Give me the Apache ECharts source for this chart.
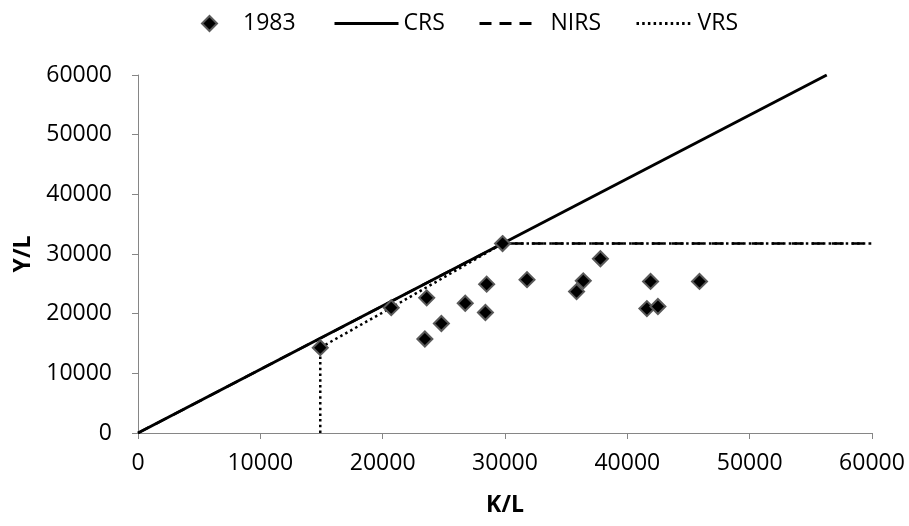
<!DOCTYPE html>
<html><head><meta charset="utf-8">
<script src="https://cdn.jsdelivr.net/npm/echarts@6/dist/echarts.min.js"></script>
<style>html,body{margin:0;padding:0;background:#fff}#c{width:909px;height:526px}</style>
</head><body><div id="c"></div>
<script>
// Observed 1983 points
const klValues = [14900, 20700, 23600, 23450, 24800, 26750, 28500, 28400, 29800, 31800, 35850, 36400, 37800, 41900, 41600, 42500, 45900];
const ylValues = [14300, 21000, 22650, 15750, 18350, 21750, 24950, 20200, 31750, 25700, 23700, 25500, 29200, 25400, 20850, 21200, 25400];
// Frontier vertices
const crsX = [0, 56300];
const crsY = [0, 60000];
const nirsX = [0, 29800, 60000];
const nirsY = [0, 31750, 31750];
const vrsX = [14900, 14900, 20700, 29800, 60000];
const vrsY = [0, 14300, 21000, 31750, 31750];
const xTicks = [0, 10000, 20000, 30000, 40000, 50000, 60000];
const yTicks = [0, 10000, 20000, 30000, 40000, 50000, 60000];

const zip = (a, b) => a.map((v, i) => [v, b[i]]);
const FONT = '"Open Sans", Lato, sans-serif';
const FS = 23;
const axisGray = '#868686';

const chart = echarts.init(document.getElementById('c'), null, {renderer: 'canvas'});
const legendBase = {top: 7, itemHeight: 14, textStyle: {fontFamily: FONT, fontSize: FS, color: '#000'}, selectedMode: false, itemStyle: {opacity: 0}, lineStyle: {width: 3}};
chart.setOption({
  animation: false,
  textStyle: {fontFamily: FONT},
  grid: {left: 138, right: 37, top: 75, bottom: 93},
  legend: [
    Object.assign({}, legendBase, {left: 196, data: ['1983'], itemWidth: 15, itemHeight: 15, itemStyle: {opacity: 1}, lineStyle: {}, textStyle: Object.assign({}, legendBase.textStyle, {padding: [0, 0, 0, 21]})}),
    Object.assign({}, legendBase, {left: 328, data: ['CRS'], itemWidth: 64}),
    Object.assign({}, legendBase, {left: 473, data: ['NIRS'], itemWidth: 57, textStyle: Object.assign({}, legendBase.textStyle, {padding: [0, 0, 0, 9]})}),
    Object.assign({}, legendBase, {left: 630, data: ['VRS'], itemWidth: 56})
  ],
  xAxis: {
    type: 'value', min: xTicks[0], max: xTicks[xTicks.length - 1], interval: 10000,
    name: 'K/L', nameLocation: 'middle', nameGap: 61,
    nameTextStyle: {fontFamily: FONT, fontSize: FS, fontWeight: 'bold', color: '#000'},
    axisLine: {lineStyle: {color: axisGray, width: 1}},
    axisTick: {show: true, length: 6, lineStyle: {color: axisGray}},
    axisLabel: {fontFamily: FONT, fontSize: FS, color: '#000', margin: 19, formatter: v => String(v)},
    splitLine: {show: false}
  },
  yAxis: {
    type: 'value', min: yTicks[0], max: yTicks[yTicks.length - 1], interval: 10000,
    name: 'Y/L', nameLocation: 'middle', nameGap: 100, nameRotate: 90,
    nameTextStyle: {fontFamily: FONT, fontSize: FS, fontWeight: 'bold', color: '#000'},
    axisLine: {show: true, lineStyle: {color: axisGray, width: 1}},
    axisTick: {show: true, length: 6, lineStyle: {color: axisGray}},
    axisLabel: {fontFamily: FONT, fontSize: FS, color: '#000', margin: 26, formatter: v => String(v)},
    splitLine: {show: false}
  },
  series: [
    {name: 'NIRS', type: 'line', data: zip(nirsX, nirsY), symbol: 'none', z: 2,
     lineStyle: {color: '#000', width: 2.5, type: [12, 8]}, itemStyle: {color: '#000'}},
    {name: 'VRS', type: 'line', data: zip(vrsX, vrsY), symbol: 'none', z: 3,
     lineStyle: {color: '#000', width: 2.5, type: [2.5, 3.2]}, itemStyle: {color: '#000'}},
    {name: 'CRS', type: 'line', data: zip(crsX, crsY), symbol: 'none', z: 4,
     lineStyle: {color: '#000', width: 3}, itemStyle: {color: '#000'}},
    {name: '1983', type: 'scatter', data: zip(klValues, ylValues), symbol: 'diamond', symbolSize: 15, z: 5,
     itemStyle: {color: '#000', borderColor: '#5a5a5a', borderWidth: 2, opacity: 1}}
  ]
});
</script></body></html>
